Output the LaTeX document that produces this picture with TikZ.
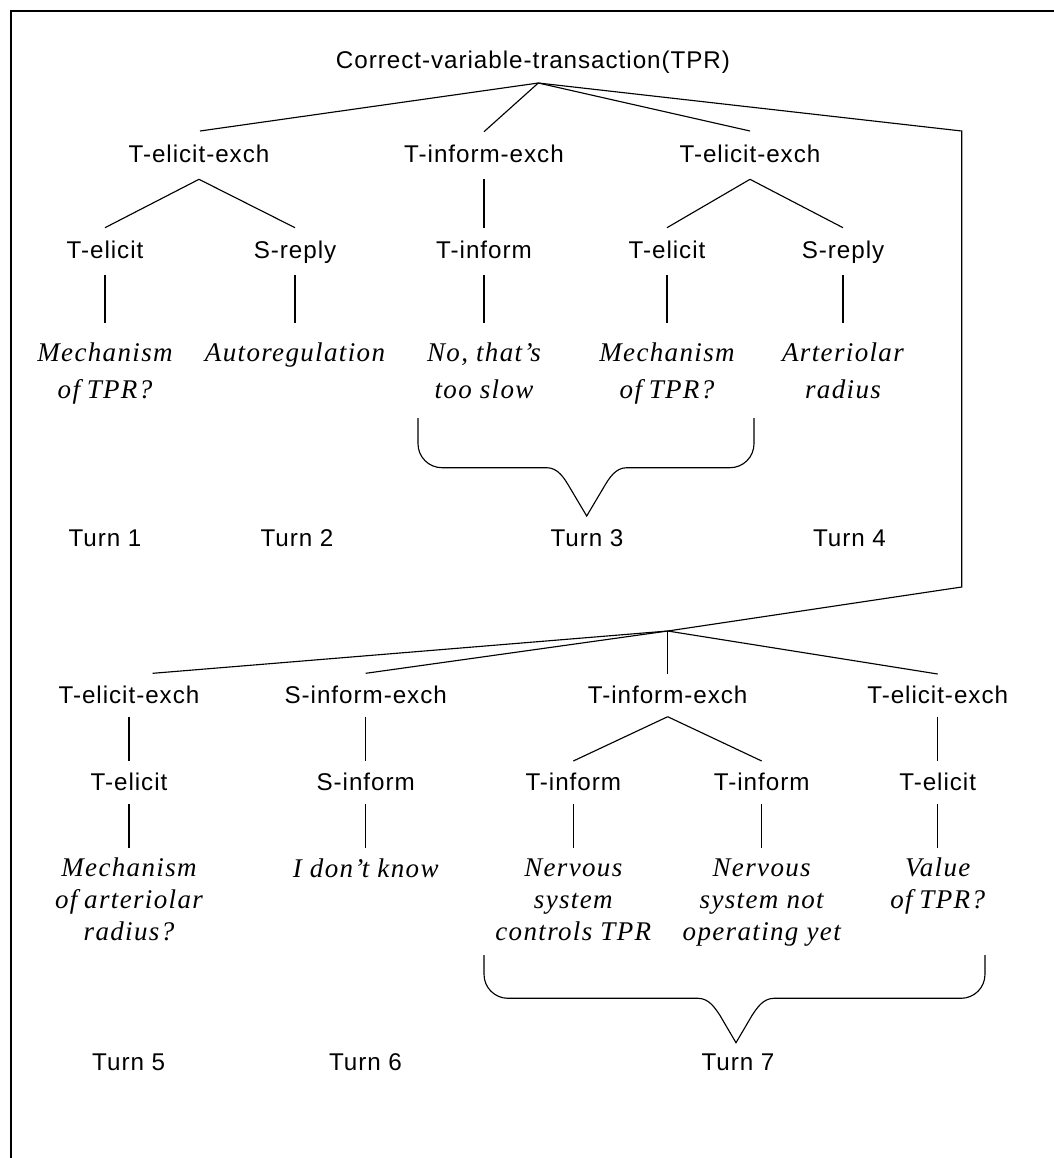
\documentclass[tikz,border=0pt]{standalone}
\usepackage{fontspec}
\usetikzlibrary{calc}
\newfontfamily\labfont[LetterSpace=4]{Liberation Sans}
\newfontfamily\uttfont[LetterSpace=5]{Liberation Serif}
\newcommand\ofsp{\hspace{0.25em}}
\begin{document}
\begin{tikzpicture}[x=0.75pt,y=-0.75pt,line width=0.85pt,
  lab/.style={inner sep=0pt,anchor=base,font={\labfont\fontsize{18.15}{22}\selectfont}},
  uttA/.style={inner sep=0pt,anchor=base,align=center,font={\uttfont\itshape\fontsize{20.25}{27.5}\selectfont}},
  uttB/.style={inner sep=0pt,anchor=base,align=center,font={\uttfont\itshape\fontsize{20.25}{23.7}\selectfont}}]
\useasboundingbox (0,0) rectangle (1054,1158);
% frame
\draw (11,1158) -- (11,11) -- (1054,11);

% ---------- first part of the transaction ----------
\node[lab] (root) at (533,68) {Correct-variable-transaction(TPR)};
\node[lab] (e1) at (199,162.7) {T-elicit-exch};
\node[lab] (e2) at (484,162.7) {T-inform-exch};
\node[lab] (e3) at (750,162.7) {T-elicit-exch};

\node[lab] (m1) at (105,258.3) {T-elicit};
\node[lab] (m2) at (295,258.3) {S-reply};
\node[lab] (m3) at (484,258.3) {T-inform};
\node[lab] (m4) at (667,258.3) {T-elicit};
\node[lab] (m5) at (843,258.3) {S-reply};

% utterances, placed by the baseline of their last line
\node[uttA] (u1) at (105,398.3) {Mechanism\\of\ofsp TPR?};
\node[uttA] (u2) at (295,361.7) {Autoregulation};
\node[uttA] (u3) at (484,398.3) {No, that’s\\too slow};
\node[uttA] (u4) at (667,398.3) {Mechanism\\of\ofsp TPR?};
\node[uttA] (u5) at (843,398.3) {Arteriolar\\radius};

\node[lab] (t1) at (105,546.7) {Turn 1};
\node[lab] (t2) at (297,546.7) {Turn 2};
\node[lab] (t3) at (587,546.7) {Turn 3};
\node[lab] (t4) at (849.5,546.7) {Turn 4};

\coordinate (r) at (538.3,83);
\coordinate (c1) at (961.7,131);
\coordinate (c2) at (961.7,587);
\coordinate (j) at (667.7,631);

\draw (r) -- ($(e1.base)+(1,-31.7)$);
\draw (r) -- ($(e2.base)+(0,-31)$);
\draw (r) -- ($(e3.base)+(0,-31.7)$);
\draw (r) -- (c1) -- (c2) -- (j);

\foreach \p/\c in {e1/m1,e1/m2,e2/m3,e3/m4,e3/m5}
  \draw ($(\p.base)+(0,16.6)$) -- ($(\c.base)+(0,-30.6)$);
\foreach \p/\c in {m1/u1,m2/u2,m3/u3,m4/u4,m5/u5}
  \draw ($(\p.base)+(0,16.7)$) -- ($(\c.base |- \p.base)+(0,65)$);

% brace grouping turn 3
\draw (418,418) -- (418,443.7) .. controls (418,457) and (428.7,467.7) .. (442,467.7)
  -- (546.7,467.7) .. controls (558,467.7) and (564.3,478.3) .. (569.3,486.7)
  -- (586.7,516) -- (604.1,486.7) .. controls (609.1,478.3) and (615.4,467.7) .. (626.7,467.7)
  -- (730,467.7) .. controls (743.3,467.7) and (754,457) .. (754,443.7) -- (754,418);

% ---------- second part of the transaction ----------
\node[lab] (f1) at (129,703.3) {T-elicit-exch};
\node[lab] (f2) at (365.7,703.3) {S-inform-exch};
\node[lab] (f3) at (667.7,703.3) {T-inform-exch};
\node[lab] (f4) at (937.7,703.3) {T-elicit-exch};

\node[lab] (n1) at (129,790) {T-elicit};
\node[lab] (n2) at (365.7,790) {S-inform};
\node[lab] (n3) at (573.3,790) {T-inform};
\node[lab] (n4) at (761.7,790) {T-inform};
\node[lab] (n5) at (937.7,790) {T-elicit};

\node[uttB] (v1) at (129,940) {Mechanism\\of\ofsp arteriolar\\radius?};
\node[uttB] (v2) at (365.7,877) {I don’t know};
\node[uttB] (v3) at (573.3,940) {Nervous\\system\\controls TPR};
\node[uttB] (v4) at (761.7,940) {Nervous\\system not\\operating yet};
\node[uttB] (v5) at (937.7,908.4) {Value\\of\ofsp TPR?};

\node[lab] (t5) at (128.7,1070.7) {Turn 5};
\node[lab] (t6) at (365.5,1070.7) {Turn 6};
\node[lab] (t7) at (738,1070.7) {Turn 7};

\draw (j) -- ($(f1.base)+(23.7,-30)$);
\draw (j) -- ($(f2.base)+(0,-30)$);
\draw (j) -- ($(f3.base)+(0,-29.3)$);
\draw (j) -- ($(f4.base)+(0,-29.3)$);

\foreach \p/\c in {f1/n1,f2/n2,f3/n3,f3/n4,f4/n5}
  \draw ($(\p.base)+(0,13.4)$) -- ($(\c.base)+(0,-29)$);
\foreach \p/\c in {n1/v1,n2/v2,n3/v3,n4/v4,n5/v5}
  \draw ($(\p.base)+(0,14)$) -- ($(\c.base |- \p.base)+(0,57.7)$);

% brace grouping turn 7
\draw (484,955) -- (484,974.3) .. controls (484,987.6) and (494.7,998.3) .. (508,998.3)
  -- (698,998.3) .. controls (709,998.3) and (715,1008) .. (719.9,1015.3)
  -- (736,1042.7) -- (752.1,1015.3) .. controls (757,1008) and (763,998.3) .. (774,998.3)
  -- (961,998.3) .. controls (974.3,998.3) and (985,987.6) .. (985,974.3) -- (985,955);
\end{tikzpicture}
\end{document}
